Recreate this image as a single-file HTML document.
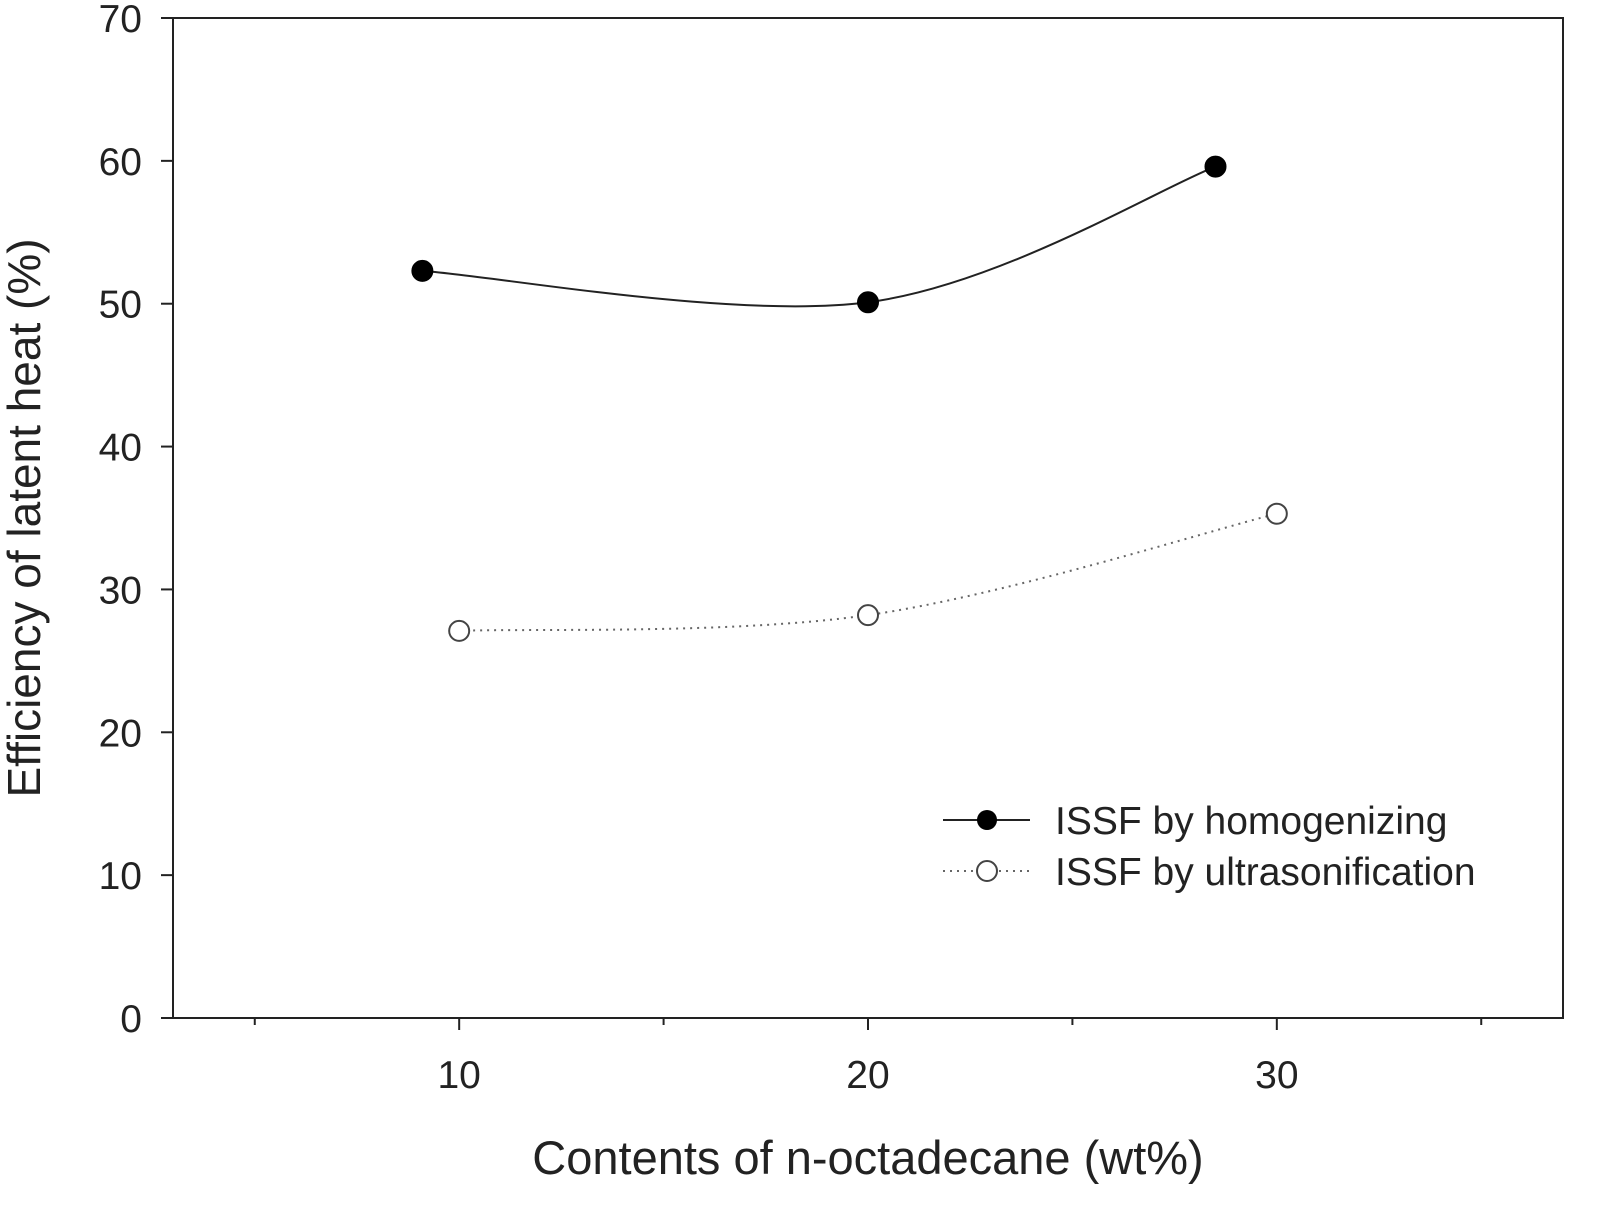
<!DOCTYPE html>
<html><head><meta charset="utf-8"><style>
body{margin:0;background:#fff;}
svg{display:block;font-family:"Liberation Sans",Arial,sans-serif;}
</style></head><body>
<svg id="chart" width="1608" height="1217" viewBox="0 0 1608 1217"></svg>
<script>
const xTicks=[10,20,30];
const xMinor=[5,15,25,35];
const yTicks=[0,10,20,30,40,50,60,70];
const homX=[9.1,20,28.5];
const homY=[52.3,50.1,59.6];
const ultX=[10,20,30];
const ultY=[27.1,28.2,35.3];
const L=173,R=1563,T=18,B=1018,xMin=3,xMax=37,yMin=0,yMax=70;
const sx=v=>L+(v-xMin)/(xMax-xMin)*(R-L);
const sy=v=>B-(v-yMin)/(yMax-yMin)*(B-T);
const svg=document.getElementById('chart');
const NS='http://www.w3.org/2000/svg';
function mk(t,a,p){const e=document.createElementNS(NS,t);for(const k in a)e.setAttribute(k,a[k]);(p||svg).appendChild(e);return e;}
const frame=mk('rect',{x:L,y:T,width:R-L,height:B-T,fill:'none',stroke:'#222','stroke-width':2});


xTicks.forEach(v=>{
 const t=mk('line',{x1:sx(v),x2:sx(v),y1:B,y2:B+12,stroke:'#222','stroke-width':2});
 
 
 const l=mk('text',{x:sx(v),y:B+70,'text-anchor':'middle','font-size':39,fill:'#222'});l.textContent=v;
 
 
});
xMinor.forEach(v=>{
 const t=mk('line',{x1:sx(v),x2:sx(v),y1:B,y2:B+7,stroke:'#222','stroke-width':2});
 
 
});
yTicks.forEach(v=>{
 const t=mk('line',{x1:L-12,x2:L,y1:sy(v),y2:sy(v),stroke:'#222','stroke-width':2});
 
 
 const l=mk('text',{x:L-31,y:sy(v)+14,'text-anchor':'end','font-size':39,fill:'#222'});l.textContent=v;
 
 
});
const xt=mk('text',{x:868,y:1174,'text-anchor':'middle','font-size':47,fill:'#222'});xt.textContent='Contents of n-octadecane (wt%)';


const yt=mk('text',{x:0,y:0,'text-anchor':'middle','font-size':46,fill:'#222',transform:'translate(40,518) rotate(-90)'});yt.textContent='Efficiency of latent heat (%)';


function curve(xs,ys){
 const p=xs.map((x,i)=>[sx(x),sy(ys[i])]);
 let d='M'+p[0][0]+','+p[0][1];
 for(let i=0;i<p.length-1;i++){
  const p0=p[i-1]||p[i],p1=p[i],p2=p[i+1],p3=p[i+2]||p[i+1];
  const c1=[p1[0]+(p2[0]-p0[0])/6,p1[1]+(p2[1]-p0[1])/6];
  const c2=[p2[0]-(p3[0]-p1[0])/6,p2[1]-(p3[1]-p1[1])/6];
  d+=` C${c1[0]},${c1[1]} ${c2[0]},${c2[1]} ${p2[0]},${p2[1]}`;
 }
 return d;
}
const hl=mk('path',{d:curve(homX,homY),fill:'none',stroke:'#222','stroke-width':2});


const ul=mk('path',{d:curve(ultX,ultY),fill:'none',stroke:'#666','stroke-width':2,'stroke-dasharray':'2,5'});


homX.forEach((x,i)=>{
 const c=mk('circle',{cx:sx(x),cy:sy(homY[i]),r:10,fill:'#000',stroke:'#000','stroke-width':2});
 
 
});
ultX.forEach((x,i)=>{
 const c=mk('circle',{cx:sx(x),cy:sy(ultY[i]),r:10,fill:'#fff',stroke:'#444','stroke-width':2});
 
 
});
const lg=mk('g',{});


mk('line',{x1:943,x2:1030,y1:820,y2:820,stroke:'#222','stroke-width':2},lg);
mk('circle',{cx:987,cy:820,r:10,fill:'#000'},lg);
const t1=mk('text',{x:1055,y:834,'font-size':39,fill:'#222'},lg);t1.textContent='ISSF by homogenizing';


mk('line',{x1:943,x2:1030,y1:871,y2:871,stroke:'#666','stroke-width':2,'stroke-dasharray':'2,5'},lg);
mk('circle',{cx:987,cy:871,r:10,fill:'#fff',stroke:'#444','stroke-width':2},lg);
const t2=mk('text',{x:1055,y:885,'font-size':39,fill:'#222'},lg);t2.textContent='ISSF by ultrasonification';


</script>
</body></html>
